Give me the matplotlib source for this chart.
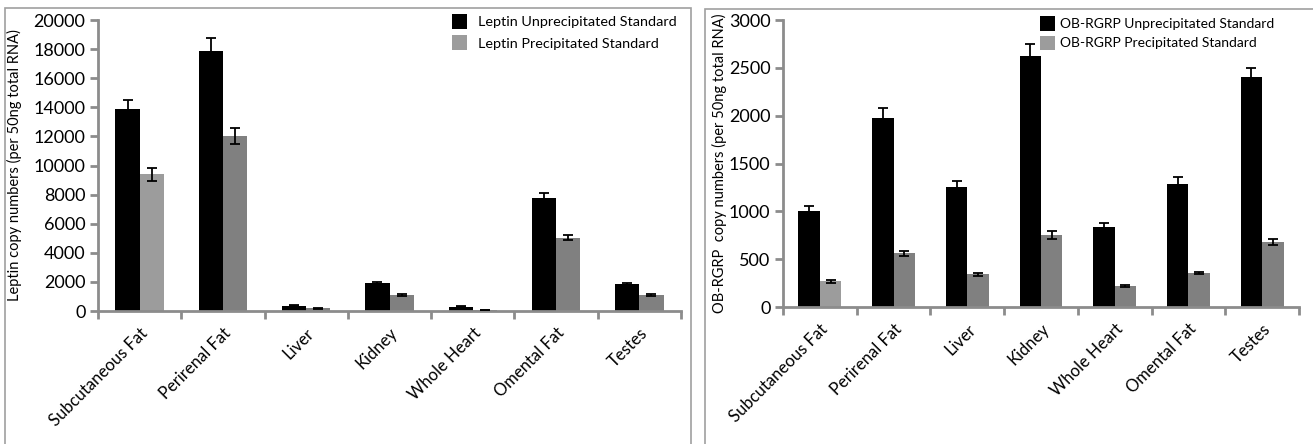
import numpy as np
import matplotlib.pyplot as plt
from matplotlib.patches import Rectangle

tissues = ['Subcutaneous Fat', 'Perirenal Fat', 'Liver', 'Kidney',
           'Whole Heart', 'Omental Fat', 'Testes']

# Leptin (per 50ng total RNA)
leptin_unprec = [13850, 17850, 350, 1950, 300, 7750, 1850]
leptin_unprec_err = [650, 900, 30, 60, 30, 350, 60]
leptin_prec = [9400, 12050, 180, 1100, 80, 5050, 1080]
leptin_prec_err = [450, 550, 30, 60, 10, 200, 60]

# OB-RGRP (per 50ng total RNA)
obrgrp_unprec = [1000, 1980, 1250, 2620, 840, 1290, 2400]
obrgrp_unprec_err = [55, 95, 65, 130, 35, 65, 100]
obrgrp_prec = [270, 560, 340, 750, 215, 355, 680]
obrgrp_prec_err = [15, 25, 12, 40, 10, 15, 30]

W, H = 1313, 444
plt.rcParams['font.family'] = ['Lato', 'DejaVu Sans']

fig = plt.figure(figsize=(W / 100, H / 100), dpi=100)

def px(x0, y0, x1, y1):
    # pixel box (top-left origin) -> figure fraction rect
    return [x0 / W, 1 - y1 / H, (x1 - x0) / W, (y1 - y0) / H]

# panel frames
for (x0, y0, x1) in [(5, 8, 691), (705, 9, 1340)]:
    fig.patches.append(Rectangle((x0 / W, -0.1), (x1 - x0) / W, 1 - y0 / H + 0.1,
                                 transform=fig.transFigure, fill=False,
                                 edgecolor='#a0a0a0', linewidth=1.2))

spine_col = '#8c8c8c'
gray = '#808080'
gray_first = '#9c9c9c'

def draw_panel(ax, unprec, unprec_err, prec, prec_err, ymax, ystep, ylabel, labels,
               leg_fs, leg_pad, leg_space):
    x = np.arange(len(tissues))
    bw = 0.29
    ax.bar(x - bw / 2, unprec, bw, color='black', label=labels[0], zorder=2)
    cols = [gray_first] + [gray] * (len(tissues) - 1)
    ax.bar(x + bw / 2, prec, bw, color=cols, label=labels[1], zorder=2)
    ek = dict(fmt='none', ecolor='black', elinewidth=1.3, capsize=3.5, capthick=1.3, zorder=3)
    ax.errorbar(x - bw / 2, unprec, yerr=unprec_err, **ek)
    ax.errorbar(x + bw / 2, prec, yerr=prec_err, **ek)

    ax.set_xlim(-0.5, len(tissues) - 0.5)
    ax.set_ylim(0, ymax)
    ax.set_yticks(np.arange(0, ymax + 1, ystep))
    ax.set_xticks(x)
    ax.set_xticklabels(tissues, rotation=45, ha='right', rotation_mode='anchor', fontsize=12)
    ax.set_xticks(np.arange(-0.5, len(tissues)), minor=True)
    ax.tick_params(axis='x', which='major', length=0, pad=10)
    ax.tick_params(axis='x', which='minor', length=6, width=2, color=spine_col, direction='out')
    ax.tick_params(axis='y', length=6, width=2, color=spine_col, labelsize=13, pad=3)
    for s in ['top', 'right']:
        ax.spines[s].set_visible(False)
    for s in ['left', 'bottom']:
        ax.spines[s].set_color(spine_col)
        ax.spines[s].set_linewidth(2)
    ax.set_ylabel(ylabel, fontsize=10.5)
    leg = ax.legend(loc='upper right', frameon=False, fontsize=leg_fs,
                    handlelength=1.1, handleheight=1.2, handletextpad=leg_pad,
                    labelspacing=leg_space)
    return leg

ax1 = fig.add_axes(px(98, 20, 681, 311))
leg1 = draw_panel(ax1, leptin_unprec, leptin_unprec_err, leptin_prec, leptin_prec_err,
                  20000, 2000, 'Leptin copy numbers (per 50ng total RNA)',
                  ['Leptin Unprecipitated Standard', 'Leptin Precipitated Standard'],
                  10.4, 0.75, 0.45)
leg1.set_bbox_to_anchor((690 / W, 1 - 1 / H), transform=fig.transFigure)
ax1.yaxis.set_label_coords(-0.13, 0.5)

ax2 = fig.add_axes(px(783, 20, 1299, 307))
leg2 = draw_panel(ax2, obrgrp_unprec, obrgrp_unprec_err, obrgrp_prec, obrgrp_prec_err,
                  3000, 500, 'OB-RGRP  copy numbers (per 50ng total RNA)',
                  ['OB-RGRP Unprecipitated Standard', 'OB-RGRP Precipitated Standard'],
                  10.0, 0.35, 0.35)
leg2.set_bbox_to_anchor((1287 / W, 1 - 4 / H), transform=fig.transFigure)
ax2.yaxis.set_label_coords(-0.108, 0.5)

fig.savefig('out.png', dpi=100)
